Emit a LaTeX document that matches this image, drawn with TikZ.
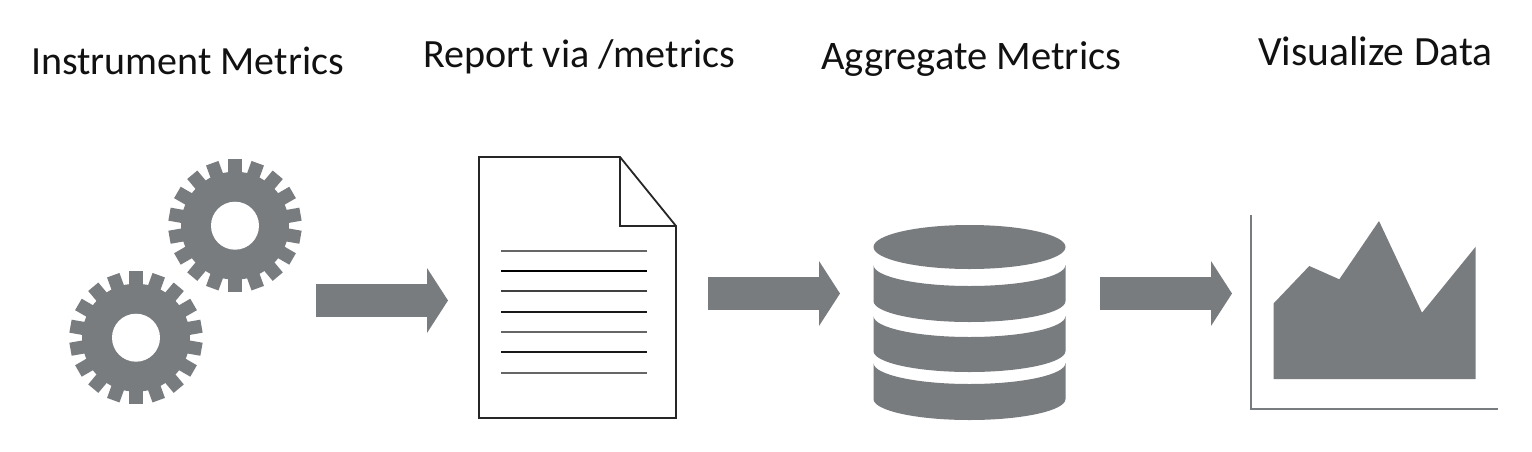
\documentclass[tikz,border=0pt]{standalone}
\usepackage{fontspec}
\setmainfont{Carlito}
\usetikzlibrary{arrows.meta}
\definecolor{iconcol}{HTML}{797C7E}
\definecolor{textcol}{HTML}{111111}
\tikzset{
  label/.style={anchor=base west,inner sep=0pt,text=textcol,font=\fontsize{#1}{46}\selectfont},
  fat/.style={draw=iconcol,line width=33pt,-{Triangle[width=64pt,length=21pt]}},
  icon/.style={fill=iconcol,draw=none},
  rule/.style={line width=1.7pt,line cap=butt},
  sheet/.style={draw=black!85,line width=1.8pt,line join=miter},
  axis/.style={draw=iconcol,line width=1.8pt},
  gear/.pic={
    \fill[iconcol] (0,0) circle[radius=54pt];
    \foreach \a in {0,20,...,340}{
      \fill[iconcol,rotate=\a] (-6.6pt,50pt) rectangle (6.6pt,66.5pt);
    }
    \fill[white] (0,0) circle[radius=24pt];
  }
}
\begin{document}
\begin{tikzpicture}[x=1pt,y=-1pt]
\useasboundingbox (0,0) rectangle (1532,451);
\fill[white] (0,0) rectangle (1532,451);
% labels
\node[label=40] (t1) at (31,74) {Instrument Metrics};
\node[label=40.1] (t2) at (423,67) {Report via /metrics};
\node[label=40.5] (t3) at (821,69) {Aggregate Metrics};
\node[label=41.6] (t4) at (1258,65) {Visualize Data};
% gears
\pic at (235,225.7) {gear};
\pic at (136,337.7) {gear};
% document
\draw[sheet] (479,157) -- (620,157) -- (676,226) -- (676,418) -- (479,418) -- cycle;
\draw[sheet] (620,157) -- (620,226) -- (676,226);
\draw[rule,draw=black!60] (501,250.7) -- (647,250.7);
\draw[rule,draw=black,line width=2pt] (501,271) -- (647,271);
\draw[rule,draw=black!75] (501,291.3) -- (647,291.3);
\draw[rule,draw=black!90] (501,311.7) -- (647,311.7);
\draw[rule,draw=black!60] (501,332) -- (647,332);
\draw[rule,draw=black!90] (501,352.3) -- (647,352.3);
\draw[rule,draw=black!60] (501,372.7) -- (647,372.7);
% database
\fill[icon] (969.5,247) ellipse[x radius=96pt,y radius=22pt];
\fill[icon] (873.5,265) arc[start angle=180,end angle=360,x radius=96pt,y radius=21pt]
  -- (1065.5,301) arc[start angle=360,end angle=180,x radius=96pt,y radius=21pt] -- cycle;
\fill[icon] (873.5,316) arc[start angle=180,end angle=360,x radius=96pt,y radius=21pt]
  -- (1065.5,351) arc[start angle=360,end angle=180,x radius=96pt,y radius=21pt] -- cycle;
\fill[icon] (873.5,363) arc[start angle=180,end angle=360,x radius=96pt,y radius=21pt]
  -- (1065.5,399) arc[start angle=360,end angle=180,x radius=96pt,y radius=21pt] -- cycle;
% chart
\draw[axis] (1251.3,215) -- (1251.3,409) -- (1497.7,409);
\fill[icon] (1273.7,379) -- (1273.7,303.3) -- (1309.3,266) -- (1339.3,279.3) -- (1379,221)
  -- (1422,312.7) -- (1475.7,246.7) -- (1475.7,379) -- cycle;
% arrows
\coordinate (a1) at (316,300.5);
\coordinate (b1) at (448,300.5);
\coordinate (a2) at (708,293.5);
\coordinate (b2) at (840,293.5);
\coordinate (a3) at (1100,293.5);
\coordinate (b3) at (1232,293.5);
\draw[fat] (a1) -- (b1);
\draw[fat] (a2) -- (b2);
\draw[fat] (a3) -- (b3);
\end{tikzpicture}
\end{document}
